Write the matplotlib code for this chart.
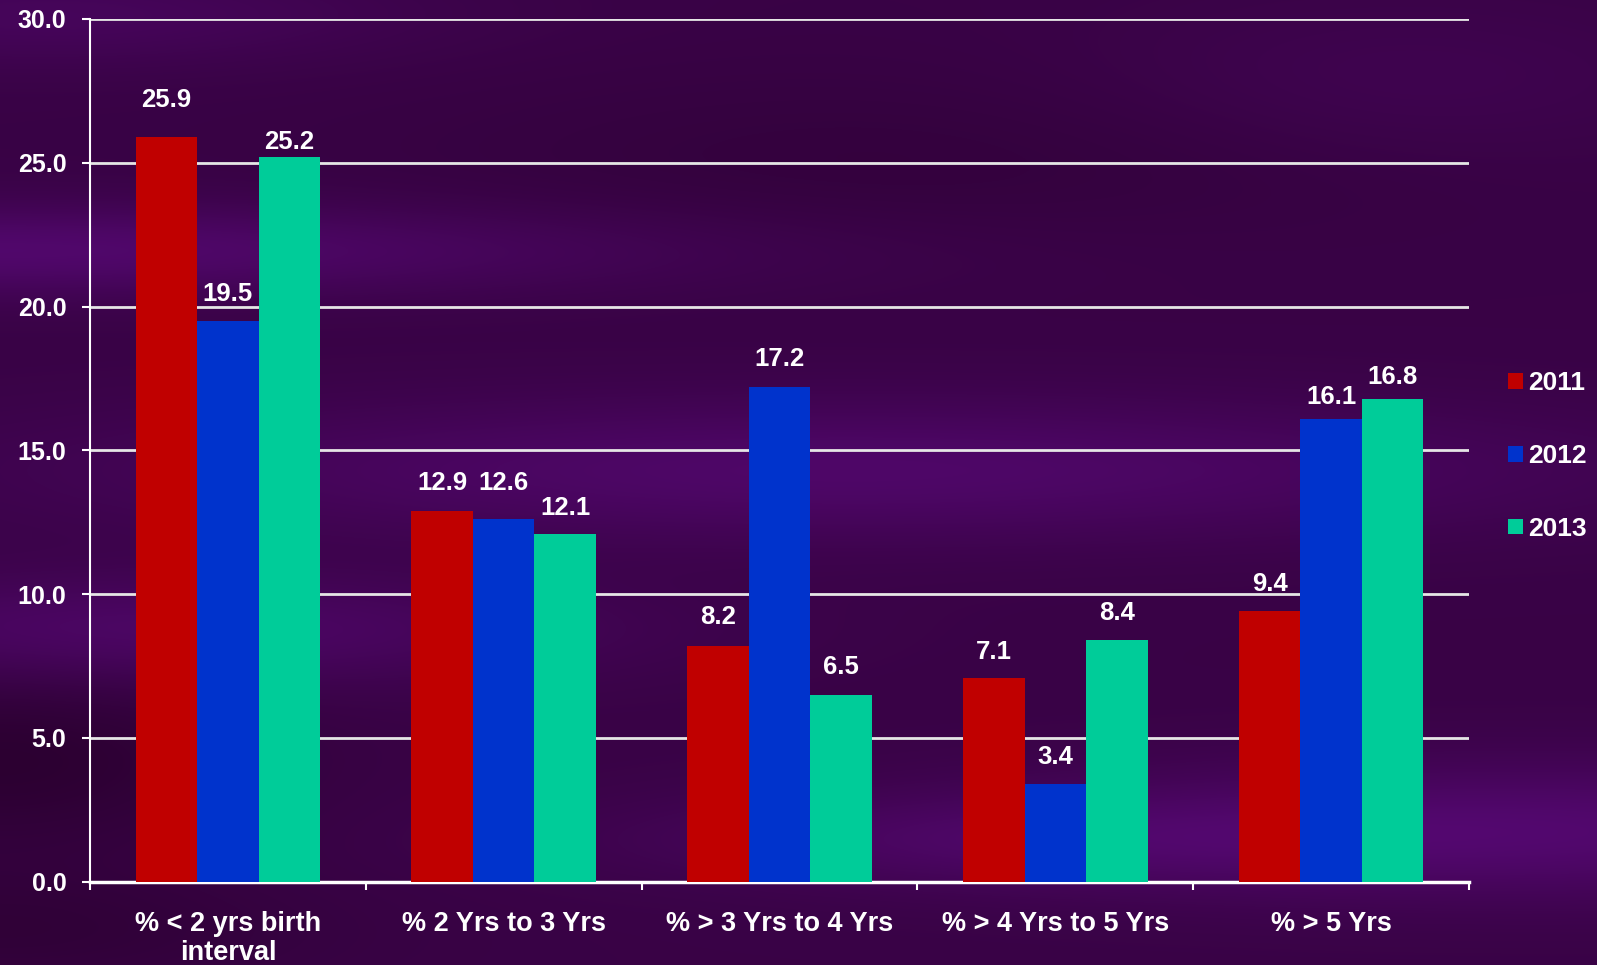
import numpy as np
import matplotlib
matplotlib.use("Agg")
import matplotlib.pyplot as plt
from matplotlib.patches import Patch

# ---- data ----
categories = ["% < 2 yrs birth\ninterval", "% 2 Yrs to 3 Yrs", "% > 3 Yrs to 4 Yrs",
              "% > 4 Yrs to 5 Yrs", "% > 5 Yrs"]
series_names = ["2011", "2012", "2013"]
values_2011 = [25.9, 12.9, 8.2, 7.1, 9.4]
values_2012 = [19.5, 12.6, 17.2, 3.4, 16.1]
values_2013 = [25.2, 12.1, 6.5, 8.4, 16.8]
y_ticks = [0, 5, 10, 15, 20, 25, 30]

# ---- styling ----
colors = ["#C00000", "#0033CC", "#00CC99"]
label_offsets = [
    [1.27, 0.95, 0.99, 0.90, 0.96],
    [0.95, 1.25, 0.99, 0.94, 0.75],
    [0.51, 0.89, 0.96, 0.94, 0.75],
]
FONT = "Liberation Sans"
W, H = 1597, 965

fig = plt.figure(figsize=(W / 100, H / 100), dpi=100)

# background (decorative gradient)
yy, xx = np.mgrid[0:H, 0:W].astype(float)
def blob(cx, cy, sx, sy, a):
    return a * np.exp(-(((xx - cx) / sx) ** 2 + ((yy - cy) / sy) ** 2))
f = 0.35 + blob(0, 250, 650, 45, 0.55) + blob(850, 470, 750, 70, 0.5) \
    + blob(150, 630, 450, 55, 0.45) + blob(1550, 830, 550, 70, 0.55) \
    + blob(1000, 840, 400, 45, 0.3) + blob(50, 15, 350, 50, 0.3) \
    + blob(1400, 80, 300, 80, 0.15) - blob(0, 760, 250, 90, 0.3) \
    - blob(0, 930, 300, 60, 0.2) - blob(900, 160, 500, 90, 0.12)
f = np.clip(f, 0, 1)
dark = np.array([0x2a, 0x00, 0x2e]) / 255
bright = np.array([0x55, 0x08, 0x72]) / 255
img = dark[None, None, :] + f[..., None] * (bright - dark)[None, None, :]
bg = fig.add_axes([0, 0, 1, 1])
bg.imshow(img, aspect="auto", extent=[0, 1, 0, 1], zorder=0)
bg.axis("off")

ax = fig.add_axes([90 / W, 1 - 881.7 / H, (1469 - 90) / W, (881.7 - 19) / H])
ax.set_facecolor("none")

x = np.arange(len(categories))
width = 0.223
all_vals = [values_2011, values_2012, values_2013]
for i, (vals, name, col) in enumerate(zip(all_vals, series_names, colors)):
    pos = x + (i - 1) * width
    ax.bar(pos, vals, width=width, color=col, label=name, zorder=3)
    for px, v, off in zip(pos, vals, label_offsets[i]):
        ax.text(px, v + off, f"{v:.1f}", ha="center", va="center", color="white",
                fontsize=18.5, fontweight="bold", family=FONT, zorder=4)

ax.set_xlim(-0.5, len(categories) - 0.5)
ax.set_ylim(0, 30)
ax.set_yticks(y_ticks)
ax.set_yticklabels([f"{t:.1f}" for t in y_ticks])
ax.yaxis.grid(True, color="#E6E6E6", linewidth=2, zorder=1)
ax.set_axisbelow(True)
ax.tick_params(axis="y", colors="white", length=6, width=1.5, pad=11,
               labelsize=18, labelcolor="white")
for lab in ax.get_yticklabels():
    lab.set_fontweight("bold")
    lab.set_family(FONT)

ax.set_xticks(x)
ax.set_xticklabels(categories)
ax.tick_params(axis="x", which="major", length=0, pad=21, labelsize=19.5, labelcolor="white")
for lab in ax.get_xticklabels():
    lab.set_fontweight("bold")
    lab.set_family(FONT)
    lab.set_linespacing(1.17)
ax.set_xticks(np.arange(-0.5, len(categories)), minor=True)
ax.tick_params(axis="x", which="minor", length=6, width=1.5, color="white")

for s in ["top", "right"]:
    ax.spines[s].set_visible(False)
ax.spines["left"].set_color("white")
ax.spines["left"].set_linewidth(1.5)
ax.spines["bottom"].set_color("white")
ax.spines["bottom"].set_linewidth(2.5)

handles = [Patch(facecolor=c, edgecolor="none") for c in colors]
leg = fig.legend(handles, series_names, loc="center left",
                 bbox_to_anchor=(1508 / W, 1 - 456 / H), frameon=False,
                 handlelength=0.55, handleheight=0.55, handletextpad=0.2,
                 labelspacing=1.85, borderpad=0, borderaxespad=0,
                 prop={"family": FONT, "weight": "bold", "size": 19})
for t in leg.get_texts():
    t.set_color("white")

fig.savefig("out.png", dpi=100)
